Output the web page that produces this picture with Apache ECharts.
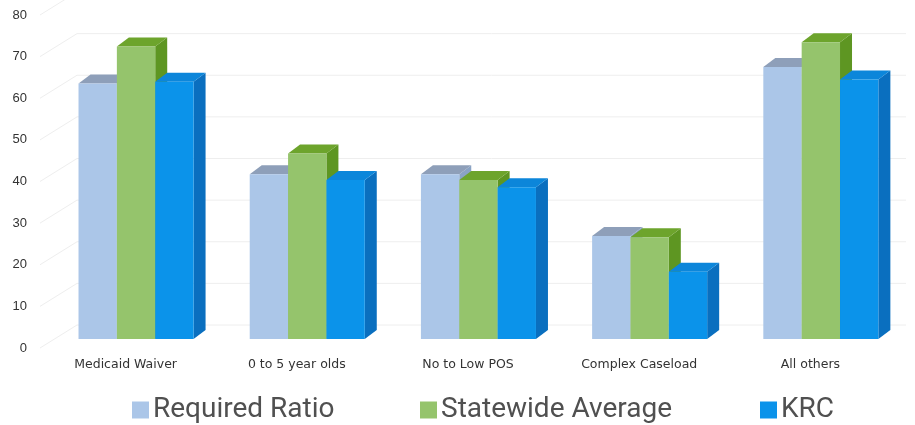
<!DOCTYPE html>
<html>
<head>
<meta charset="utf-8">
<script src="https://cdn.jsdelivr.net/npm/echarts@6/dist/echarts.min.js"></script>
<style>
html,body{margin:0;padding:0;background:#fff;}
#chart{width:915px;height:425px;}
</style>
</head>
<body>
<div id="chart"></div>
<script>
const categories = ['Medicaid Waiver', '0 to 5 year olds', 'No to Low POS', 'Complex Caseload', 'All others'];
const seriesNames = ['Required Ratio', 'Statewide Average', 'KRC'];
const requiredRatio = [62, 40, 40, 25, 66];
const statewideAverage = [71, 45, 38.6, 24.7, 72];
const krc = [62.4, 38.6, 36.8, 16.3, 63];
const yTicks = [0, 10, 20, 30, 40, 50, 60, 70, 80];

const palettes = [
  { front: '#abc6e8', top: '#8e9fb9', side: '#8aa3c4' },
  { front: '#95c46c', top: '#6da42c', side: '#5e9622' },
  { front: '#0b93ea', top: '#0c86da', side: '#0a6fbf' }
];

const DX = 12, DY = 9, LIFT = 9, DEPTH_SCALE = 0.99;

function barRenderer(k) {
  return function (params, api) {
    const i = api.value(0), v = api.value(1);
    const c = api.coord([i, v]);
    const b = api.coord([i, 0]);
    const band = api.size([1, 0])[0];
    const bw = band * 0.224;
    const x0 = c[0] - band * 0.275 + k * bw;
    const x1 = x0 + bw;
    const yb = b[1] - LIFT;
    const yt = yb - (b[1] - c[1]) * DEPTH_SCALE;
    const p = palettes[k];
    return {
      type: 'group',
      children: [
        { type: 'polygon', shape: { points: [[x1, yt], [x1 + DX, yt - DY], [x1 + DX, yb - DY], [x1, yb]] }, style: { fill: p.side } },
        { type: 'polygon', shape: { points: [[x0, yt], [x0 + DX, yt - DY], [x1 + DX, yt - DY], [x1, yt]] }, style: { fill: p.top } },
        { type: 'rect', shape: { x: x0, y: yt, width: bw, height: yb - yt }, style: { fill: p.front } }
      ]
    };
  };
}

function gridRenderer(params, api) {
  const t = api.value(1);
  const y = api.coord([0, t])[1];
  const cs = params.coordSys;
  return {
    type: 'polyline',
    shape: { points: [[cs.x, y], [cs.x + 37, y - 23], [cs.x + cs.width + 10, y - 23]] },
    style: { stroke: '#eeeeee', lineWidth: 1, fill: null }
  };
}

const valueSets = [requiredRatio, statewideAverage, krc];

const series = [{
  type: 'custom',
  name: '_grid',
  silent: true,
  renderItem: gridRenderer,
  data: yTicks.map(t => [0, t]),
  encode: { x: 0, y: 1 },
  z: 1
}];
valueSets.forEach((vals, k) => {
  series.push({
    type: 'custom',
    name: seriesNames[k],
    renderItem: barRenderer(k),
    itemStyle: { color: palettes[k].front },
    data: vals.map((v, i) => [i, v]),
    encode: { x: 0, y: 1 },
    z: 2 + k
  });
});

const legendLefts = [127, 415, 755];
const legends = seriesNames.map((n, k) => ({
  data: [n],
  left: legendLefts[k],
  top: 391,
  icon: 'rect',
  itemWidth: 17,
  itemHeight: 17,
  itemGap: 0,
  textStyle: { fontSize: 28, color: '#505050', fontFamily: 'Roboto', padding: [0, 0, 0, -1] }
}));

const chart = echarts.init(document.getElementById('chart'), null, { renderer: 'canvas' });
chart.setOption({
  animation: false,
  backgroundColor: '#ffffff',
  legend: legends,
  grid: { left: 40, right: 19, top: 15, bottom: 77 },
  xAxis: {
    type: 'category',
    data: categories,
    axisLine: { show: false },
    axisTick: { show: false },
    axisLabel: { color: '#333', fontSize: 12.5, fontFamily: 'DejaVu Sans', margin: 10 }
  },
  yAxis: {
    type: 'value',
    min: 0,
    max: 80,
    interval: 10,
    splitLine: { show: false },
    axisLine: { show: false },
    axisTick: { show: false },
    axisLabel: { color: '#333', fontSize: 13, fontFamily: 'Liberation Sans', margin: 13 }
  },
  series: series
});
</script>
</body>
</html>
